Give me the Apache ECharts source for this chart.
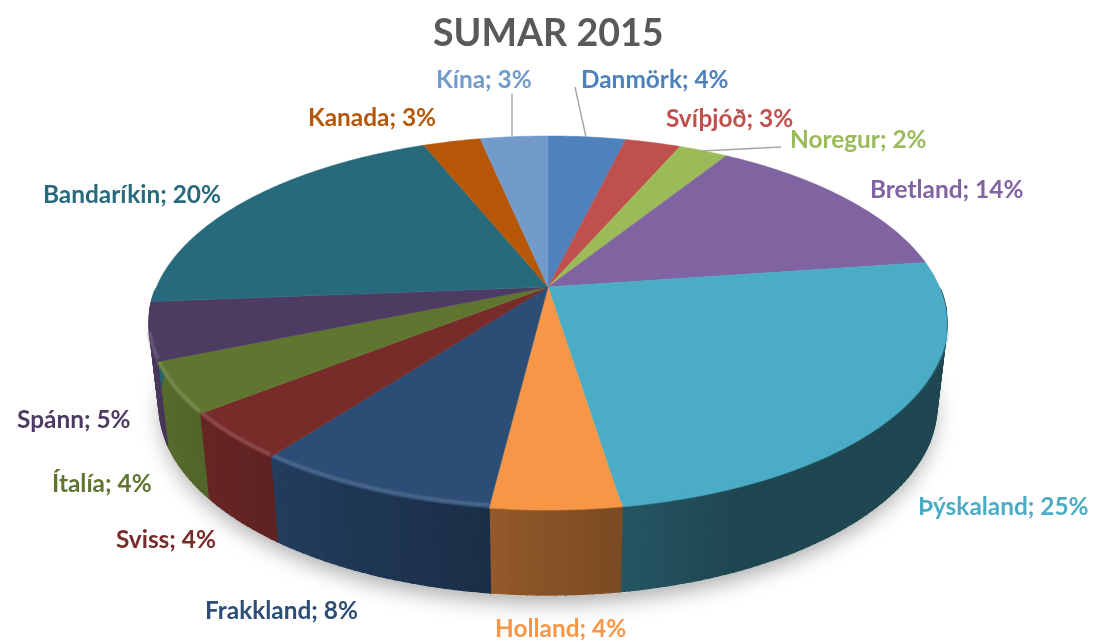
<!DOCTYPE html>
<html>
<head>
<meta charset="utf-8">
<title>SUMAR 2015</title>
<script src="https://cdn.jsdelivr.net/npm/echarts@6/dist/echarts.min.js"></script>
<style>
html, body { margin: 0; background: #fff; }
#chart { width: 1094px; height: 642px; }
</style>
</head>
<body>
<div id="chart"></div>
<script>
// gögn lesin af myndinni
const categories = ["Danmörk", "Svíþjóð", "Noregur", "Bretland", "Þýskaland", "Holland", "Frakkland", "Sviss", "Ítalía", "Spánn", "Bandaríkin", "Kanada", "Kína"]
const shares = [3.8, 2.7, 2.4, 13.9, 24.8, 4.4, 8.3, 4.1, 4.4, 5.0, 20.2, 2.8, 3.3]

const colors = ["#4f81bd", "#c0504d", "#9bbb59", "#8064a2", "#4bacc6", "#f79646", "#2c4d75", "#772c2a", "#5f7530", "#4d3b62", "#276a7c", "#b65708", "#729aca"]
// vinstri brún og miðja texta á hverjum merkimiða
const labelAt = [[581, 80], [666, 119], [790, 140], [870, 190], [918, 507], [495, 629], [205, 611], [116, 540], [52, 484], [17, 420], [43, 195], [308, 118], [436, 80]]
const leaders = [[575, 87, 586, 137], [702, 151, 781, 147], [512, 94, 512, 136]]

const total = shares.reduce((a, b) => a + b, 0)
const starts = []
shares.reduce((sum, v, i) => { starts[i] = sum; return sum + v }, 0)

// hringur varpaður á flöt með fjarvídd, miðja kökunnar er ofan við miðju sporbaugsins
const cx = 548, cy = 287, R = 391.5, A = 180.1, k = -0.1925
const bottomScale = 0.975

function topPoint(angle) {
    const u = Math.sin(angle), v = -Math.cos(angle), w = 1 + k * v
    return [cx + R * u / w, cy + A * v / w]
}
function bottomPoint(angle) {
    const p = topPoint(angle)
    return [cx + (p[0] - cx) * bottomScale, 405 + (p[1] - 323) * 190 / 187]
}
function toAngle(share) {
    return share / total * Math.PI * 2
}
function arcAngles(i) {
    const a0 = toAngle(starts[i]), a1 = toAngle(starts[i] + shares[i])
    const n = Math.max(4, Math.ceil((a1 - a0) / 0.02))
    const list = []
    for (let s = 0; s <= n; s++) list.push(a0 + (a1 - a0) * s / n)
    return list
}
function shade(hex, f) {
    const n = parseInt(hex.slice(1), 16)
    const c = [n >> 16, (n >> 8) & 255, n & 255].map((x) => Math.min(255, Math.round(x * f)))
    return "rgb(" + c.join(",") + ")"
}
function lighten(hex, f) {
    const n = parseInt(hex.slice(1), 16)
    const c = [n >> 16, (n >> 8) & 255, n & 255].map((x) => Math.round(x + (255 - x) * f))
    return "rgb(" + c.join(",") + ")"
}
function wallFactor(u) {
    if (u >= 0) return 0.55 - 0.14 * Math.min(1, u * 2.5)
    return 0.55 + Math.min(0.95, -u) * 0.4
}

function renderWall(params) {
    const i = params.dataIndex
    const angles = arcAngles(i)
    const children = []
    for (let s = 0; s < angles.length - 1; s++) {
        const a = angles[s], b = angles[s + 1]
        // bakhliðin sést ekki
        if (-Math.cos(a) < 0.03 && -Math.cos(b) < 0.03) continue
        const fill = shade(colors[i], wallFactor(Math.sin((a + b) / 2)))
        children.push({
            type: "polygon",
            shape: { points: [topPoint(a), topPoint(b), bottomPoint(b), bottomPoint(a)] },
            style: { fill: fill, stroke: fill, lineWidth: 1.5 },
        })
    }
    return { type: "group", children: children }
}

function renderTop(params) {
    const i = params.dataIndex
    const angles = arcAngles(i)
    const edge = angles.map(topPoint)
    const children = [{
        type: "polygon",
        shape: { points: [[cx, cy]].concat(edge) },
        style: { fill: colors[i], stroke: colors[i], lineWidth: 0.5 },
    }]
    // mjúk brún framan á kökunni, ljósari vinstra megin
    const front = angles.filter((a) => -Math.cos(a) > 0.25)
    if (front.length > 1) {
        const u = Math.sin(toAngle(starts[i] + shares[i] / 2))
        const rim = u < 0 ? lighten(colors[i], Math.min(0.13, -u * 0.5)) : colors[i]
        children.push({
            type: "polyline",
            shape: { points: front.map((a) => { const p = topPoint(a); return [p[0], p[1] - 3] }) },
            style: { fill: "none", stroke: rim, lineWidth: 3, shadowBlur: 3, shadowColor: rim },
        })
    }
    return { type: "group", children: children }
}

function renderLabel(params) {
    const i = params.dataIndex
    return {
        type: "text",
        x: labelAt[i][0],
        y: labelAt[i][1],
        style: {
            text: categories[i] + "; " + Math.round(shares[i] / total * 100) + "%",
            fill: colors[i],
            font: "bold 24.4px Lato",
            textAlign: "left",
            textVerticalAlign: "middle",
        },
    }
}

const chart = echarts.init(document.getElementById("chart"))
chart.setOption({
    animation: false,
    title: {
        text: "SUMAR 2015",
        left: 428,
        top: 10,
        textStyle: { color: "#595959", fontFamily: "Lato", fontWeight: "bold", fontSize: 37.6 },
    },
    graphic: [
        {
            type: "ellipse",
            z: 0,
            shape: { cx: cx, cy: 407, rx: 386, ry: 189 },
            style: { fill: "#fff", shadowBlur: 22, shadowColor: "rgba(0,0,0,0.35)", shadowOffsetY: 6 },
        },
    ].concat(leaders.map((l) => ({
        type: "line",
        z: 5,
        shape: { x1: l[0], y1: l[1], x2: l[2], y2: l[3] },
        style: { stroke: "#a6a6a6", lineWidth: 1.4 },
    }))),
    series: [
        { type: "custom", coordinateSystem: "none", z: 2, silent: true, data: shares, renderItem: renderWall },
        { type: "custom", coordinateSystem: "none", z: 3, silent: true, data: shares, renderItem: renderTop },
        { type: "custom", coordinateSystem: "none", z: 4, silent: true, data: shares, renderItem: renderLabel },
    ],
})
</script>
</body>
</html>
